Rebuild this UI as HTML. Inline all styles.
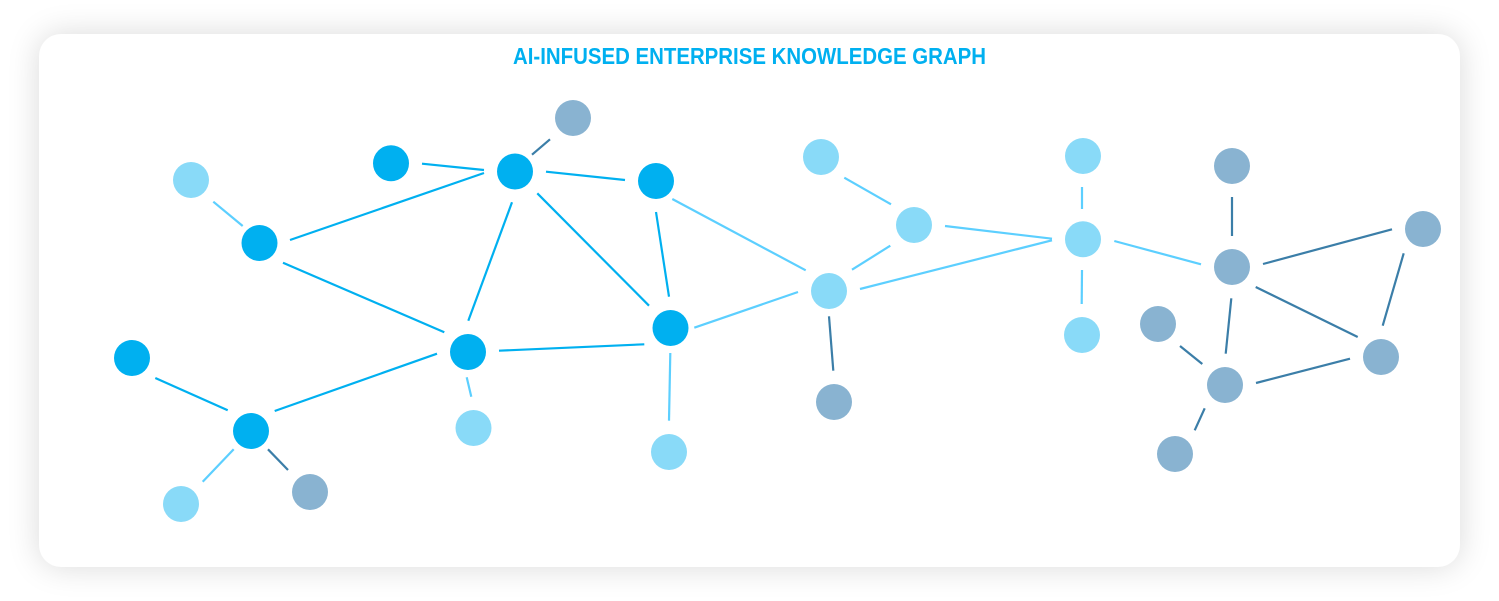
<!DOCTYPE html>
<html lang="en">
<head>
<meta charset="utf-8">
<title>AI-Infused Enterprise Knowledge Graph</title>
<style>
html,body{margin:0;padding:0;background:#fff;width:1499px;height:601px;overflow:hidden}
#card{position:absolute;left:39px;top:34px;width:1421px;height:533px;background:#fff;border-radius:22px;box-shadow:0 0 32px rgba(0,0,0,.15)}
svg{position:absolute;left:0;top:0}
.d line{stroke:#00b0f0}
.l line{stroke:#5ccfff}
.g line{stroke:#3b7ea8}
line{stroke-width:2.2}
.nd{fill:#00b0f0}.nl{fill:#89daf8}.ng{fill:#89b3d1}
</style>
</head>
<body>
<div id="card"></div>
<svg width="1499" height="601" viewBox="0 0 1499 601" xmlns="http://www.w3.org/2000/svg">
<text x="513" y="64" font-family="'Liberation Sans',sans-serif" font-weight="700" font-size="23" fill="#00b0f0" textLength="473" lengthAdjust="spacingAndGlyphs">AI-INFUSED ENTERPRISE KNOWLEDGE GRAPH</text>
<g class="d">
<line x1="422" y1="163.7" x2="484" y2="170"/>
<line x1="290" y1="240" x2="484" y2="173"/>
<line x1="283" y1="262.7" x2="444.3" y2="332.3"/>
<line x1="512" y1="202.3" x2="468.3" y2="320.7"/>
<line x1="155.3" y1="378" x2="227.7" y2="410.3"/>
<line x1="274.7" y1="411" x2="437" y2="353.7"/>
<line x1="546" y1="171.7" x2="625" y2="180"/>
<line x1="537.3" y1="193.3" x2="649" y2="305.7"/>
<line x1="656" y1="212" x2="669" y2="296.7"/>
<line x1="499" y1="350.7" x2="644.3" y2="344.3"/>
</g>
<g class="l">
<line x1="213.3" y1="201.7" x2="242.7" y2="226"/>
<line x1="466.7" y1="377.3" x2="471.3" y2="396.7"/>
<line x1="202.7" y1="481.7" x2="233.7" y2="449.3"/>
<line x1="672.3" y1="199" x2="805.7" y2="270.3"/>
<line x1="694.3" y1="327.7" x2="798" y2="292"/>
<line x1="670.3" y1="353" x2="669" y2="420.7"/>
<line x1="844.3" y1="177.7" x2="891" y2="204.3"/>
<line x1="945" y1="226" x2="1052" y2="238.7"/>
<line x1="860" y1="289" x2="1052" y2="240.3"/>
<line x1="852" y1="269.7" x2="890.3" y2="245.7"/>
<line x1="1082" y1="187" x2="1082" y2="209"/>
<line x1="1082" y1="270" x2="1081.7" y2="304"/>
<line x1="1114.3" y1="241" x2="1201" y2="264.3"/>
</g>
<g class="g">
<line x1="268" y1="449.3" x2="288" y2="470"/>
<line x1="532" y1="154.7" x2="550" y2="139.3"/>
<line x1="829" y1="316.3" x2="833.3" y2="370.7"/>
<line x1="1232" y1="197" x2="1232" y2="236"/>
<line x1="1263" y1="264" x2="1392" y2="229.3"/>
<line x1="1403.7" y1="253.3" x2="1382.7" y2="325.7"/>
<line x1="1255.7" y1="287" x2="1357.7" y2="337"/>
<line x1="1256" y1="383" x2="1350" y2="358.7"/>
<line x1="1231.3" y1="298.3" x2="1225.7" y2="353.7"/>
<line x1="1180" y1="346" x2="1202.3" y2="364"/>
<line x1="1204.7" y1="408.3" x2="1194.7" y2="430.3"/>
</g>
<g class="nd">
<circle cx="259.5" cy="243" r="18"/>
<circle cx="391" cy="163.3" r="18"/>
<circle cx="515" cy="171.5" r="18"/>
<circle cx="656" cy="181" r="18"/>
<circle cx="132" cy="358" r="18"/>
<circle cx="251" cy="431" r="18"/>
<circle cx="468" cy="352" r="18"/>
<circle cx="670.5" cy="328" r="18"/>
</g>
<g class="nl">
<circle cx="191" cy="180" r="18"/>
<circle cx="473.5" cy="428" r="18"/>
<circle cx="181" cy="504" r="18"/>
<circle cx="669" cy="452" r="18"/>
<circle cx="821" cy="157" r="18"/>
<circle cx="829" cy="291" r="18"/>
<circle cx="914" cy="225" r="18"/>
<circle cx="1083" cy="156" r="18"/>
<circle cx="1083" cy="239.3" r="18"/>
<circle cx="1082" cy="335" r="18"/>
</g>
<g class="ng">
<circle cx="573" cy="118" r="18"/>
<circle cx="310" cy="492" r="18"/>
<circle cx="834" cy="402" r="18"/>
<circle cx="1232" cy="166" r="18"/>
<circle cx="1232" cy="267" r="18"/>
<circle cx="1423" cy="229" r="18"/>
<circle cx="1381" cy="357" r="18"/>
<circle cx="1225" cy="385" r="18"/>
<circle cx="1158" cy="324" r="18"/>
<circle cx="1175" cy="454" r="18"/>
</g>
</svg>
</body>
</html>
